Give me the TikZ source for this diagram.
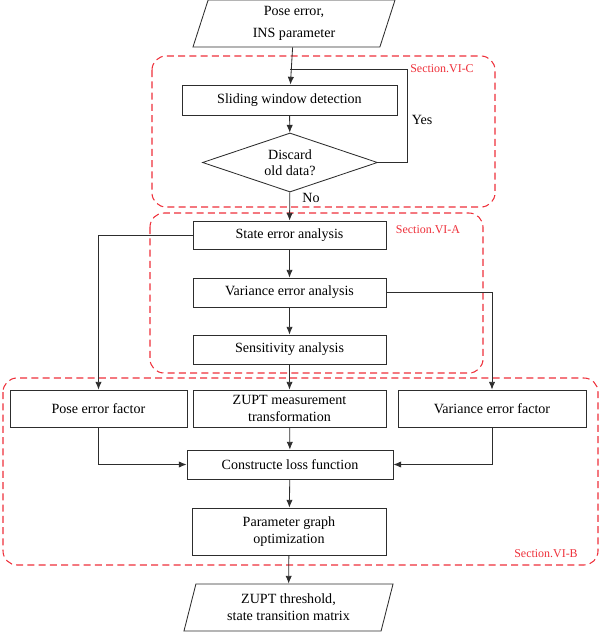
\documentclass[tikz,border=0pt]{standalone}
\usepackage{fontspec}
\setmainfont{Liberation Serif}
\usetikzlibrary{shapes.geometric,arrows.meta}
\definecolor{secred}{RGB}{238,48,58}
\definecolor{linegray}{RGB}{45,45,45}

\begin{document}
\begin{tikzpicture}[
    x=0.025cm, y=-0.025cm,
    block/.style={rectangle, draw=linegray, line width=0.6pt, fill=white,
        inner sep=1pt, align=center, font=\fontsize{10}{12}\selectfont},
    decision/.style={diamond, aspect=3, draw=linegray, line width=0.6pt, fill=white,
        inner sep=0pt, minimum width=4.375cm, minimum height=1.475cm,
        align=center, font=\fontsize{10}{11.5}\selectfont},
    io/.style={trapezium, trapezium left angle=68, trapezium right angle=112,
        trapezium stretches body, draw=linegray, line width=0.6pt, fill=white,
        inner sep=1pt, minimum height=1.175cm, align=center,
        font=\fontsize{10}{12}\selectfont},
    edge/.style={line width=0.6pt, draw=linegray, -{Latex[length=5.5pt,width=4.5pt]}},
    link/.style={line width=0.6pt, draw=linegray},
    group/.style={draw=secred, line width=0.75pt, dash pattern=on 5pt off 3pt,
        rounded corners=10pt},
    tag/.style={text=secred, inner sep=0pt, font=\fontsize{8.5}{10}\selectfont}
]
    \useasboundingbox (0,0) rectangle (600,632);

    % section frames
    \draw[group] (152,56) rectangle (495,207);
    \draw[group] (150,213) rectangle (483,373);
    \draw[group] (3,378) rectangle (598,565);
    \node[tag] (tagc) at (442,69) {Section.VI-C};
    \node[tag] (taga) at (428,230) {Section.VI-A};
    \node[tag] (tagb) at (546,554) {Section.VI-B};

    \node[io, minimum width=5.05cm] (in) at (294,23.5) {Pose error,\\[4pt] INS parameter};
    \node[block, minimum width=5.375cm, minimum height=0.75cm] (slide) at (289.5,100) {Sliding window detection};
    \node[decision] (dia) at (290,162.5) {Discard\\old data?};
    \node[block, minimum width=4.825cm, minimum height=0.7cm] (state) at (289.5,235) {State error analysis};
    \node[block, minimum width=4.825cm, minimum height=0.725cm] (var) at (289.5,292.5) {Variance error analysis};
    \node[block, minimum width=4.825cm, minimum height=0.725cm] (sens) at (289.5,349.5) {Sensitivity analysis};
    \node[block, minimum width=4.425cm, minimum height=0.925cm] (pose) at (98.5,408.5) {Pose error factor};
    \node[block, minimum width=4.825cm, minimum height=0.925cm] (zupt) at (289.5,408.5) {ZUPT measurement\\transformation};
    \node[block, minimum width=4.7cm, minimum height=0.925cm] (vfac) at (492,408.5) {Variance error factor};
    \node[block, minimum width=5.15cm, minimum height=0.725cm] (loss) at (290,464.5) {Constructe loss function};
    \node[block, minimum width=4.85cm, minimum height=1.175cm] (param) at (289,531.5) {Parameter graph\\optimization};
    \node[io, minimum width=5.225cm] (out) at (288.5,607.5) {ZUPT threshold,\\state transition matrix};

    \coordinate (yesc) at (407,69);
    \coordinate (join) at (290,69);
    \node[font=\fontsize{10}{12}\selectfont] (yes) at (422,120) {Yes};
    \node[font=\fontsize{10}{12}\selectfont] (no) at (311,198) {No};

    \draw[edge] (in) -- (slide);
    \draw[edge] (slide) -- (dia);
    \draw[link] (dia.east) -| (yesc) -- (join);
    \draw[edge] (dia) -- (state);
    \draw[edge] (state) -- (var);
    \draw[edge] (var) -- (sens);
    \draw[edge] (sens) -- (zupt);
    \draw[edge] (state.west) -| (pose.north);
    \draw[edge] (var.east) -| (vfac.north);
    \draw[edge] (zupt) -- (loss);
    \draw[edge] (pose.south) |- (loss.west);
    \draw[edge] (vfac.south) |- (loss.east);
    \draw[edge] (loss) -- (param);
    \draw[edge] (param) -- (out);
\end{tikzpicture}
\end{document}
